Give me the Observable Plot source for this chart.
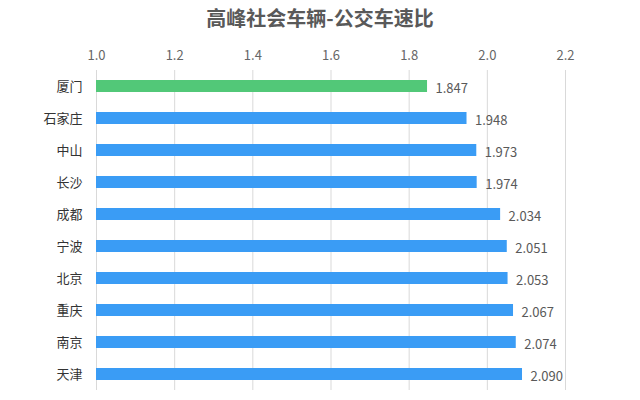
<!DOCTYPE html>
<html>
<head>
<meta charset="utf-8">
<script src="https://cdn.jsdelivr.net/npm/d3@7"></script>
<script src="https://cdn.jsdelivr.net/npm/@observablehq/plot@0.6"></script>
<style>
  html, body { margin: 0; padding: 0; overflow: hidden; background: #fff; font-family: "Noto Sans CJK SC", "Noto Sans", sans-serif; }
  #title { height: 40px; line-height: 36px; text-align: center; font-size: 20px; font-weight: bold; color: #595959; width: 640px; }
  #chart svg { display: block; }
</style>
</head>
<body>
<div id="title">高峰社会车辆-公交车速比</div>
<div id="chart"></div>
<script>
const cities = ["厦门", "石家庄", "中山", "长沙", "成都", "宁波", "北京", "重庆", "南京", "天津"];
const ratios = [1.847, 1.948, 1.973, 1.974, 2.034, 2.051, 2.053, 2.067, 2.074, 2.090];
const xTicks = [1.0, 1.2, 1.4, 1.6, 1.8, 2.0, 2.2];
const highlight = "厦门";

const data = cities.map((c, i) => ({city: c, value: ratios[i]}));

const chart = Plot.plot({
  width: 640,
  height: 360,
  marginTop: 30,
  marginBottom: 10,
  marginLeft: 96,
  marginRight: 75,
  style: {fontFamily: "'Noto Sans CJK SC', 'Noto Sans', sans-serif", fontSize: "13px", color: "#666", maxWidth: "none"},
  x: {domain: [1.0, 2.2], axis: "top", ticks: xTicks, tickFormat: d3.format(".1f"), tickSize: 0, tickPadding: 11, label: null, grid: false},
  y: {domain: cities, paddingInner: 0.62, paddingOuter: 0.31, label: null, tickSize: 0, tickPadding: 14},
  marks: [
    Plot.ruleX(xTicks, {stroke: "#d9d9d9", strokeWidth: 1, strokeOpacity: 1}),
    Plot.barX(data, {x1: 1.0, x2: "value", y: "city", fill: d => d.city === highlight ? "#52C878" : "#3A9CF5"}),
    Plot.text(data, {x: "value", y: "city", text: d => d.value.toFixed(3), textAnchor: "start", dx: 8, dy: 2, fill: "#595959", fontSize: 13})
  ]
});
chart.querySelectorAll('[aria-label="y-axis tick label"] text').forEach(t => t.setAttribute("fill", "#333"));
document.getElementById("chart").appendChild(chart);
</script>
</body>
</html>
